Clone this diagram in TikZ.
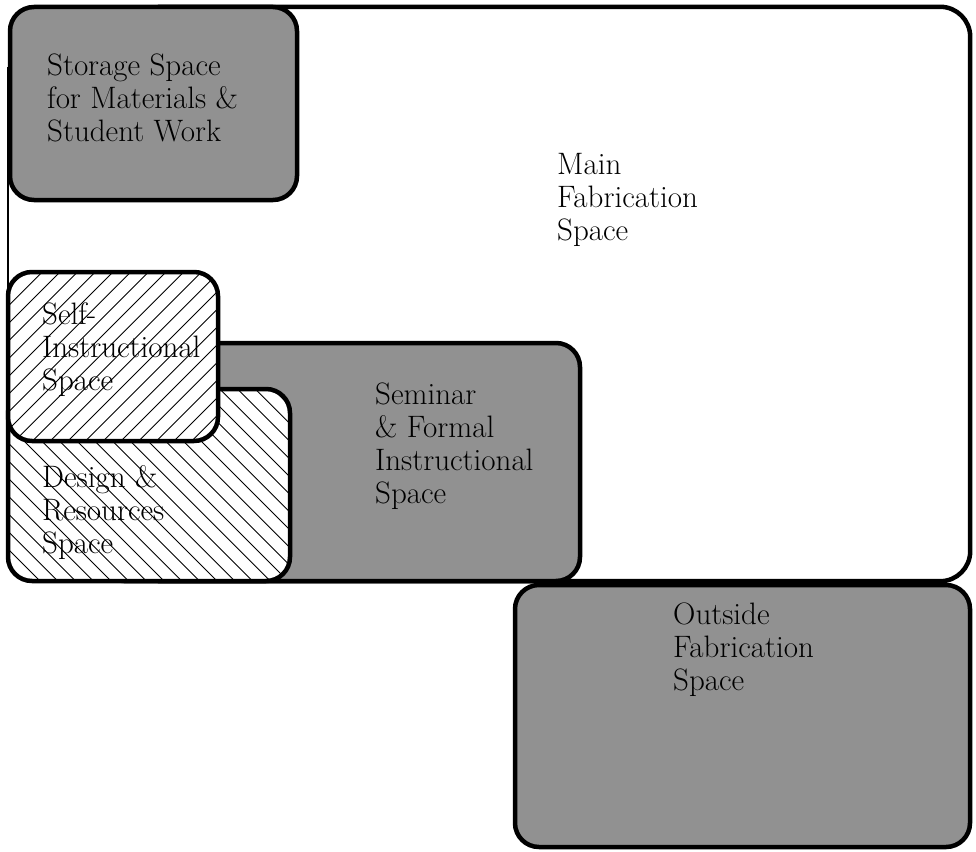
\documentclass[tikz,border=0pt]{standalone}
\definecolor{halftone}{gray}{0.57}
\begin{document}
\begin{tikzpicture}[x=1pt,y=-1pt,
  room/.style={rectangle, draw=black, line width=4.5pt, rounded corners=24pt, inner sep=0pt},
  shaded/.style={room, fill=halftone},
  hatchNE/.style={room, fill=white, path picture={
      \foreach \k in {-30,...,30}
        \draw[line width=0.9pt] ([xshift=\k*17.7pt]path picture bounding box.north) -- ++(-320pt,-320pt);}},
  hatchNW/.style={room, fill=white, path picture={
      \foreach \k in {-30,...,30}
        \draw[line width=0.9pt] ([xshift=\k*17.7pt]path picture bounding box.north) -- ++(320pt,-320pt);}},
  roomtext/.style={anchor=north west, align=left, inner sep=0pt, font=\fontsize{31}{33}\selectfont}]
\useasboundingbox (0,0) rectangle (976,851);

% main fabrication hall: heavy outline except for the thin west wall
\node[rectangle, fill=white, inner sep=0pt, minimum width=962pt, minimum height=574pt] (main) at (489,294) {};
\draw[line width=4.5pt, rounded corners=30pt] ([xshift=150pt]main.south west) -- (main.south east) -- (main.north east) -- ([xshift=150pt]main.north west);
\draw[line width=1.5pt] ([yshift=-60pt]main.north west) -- ([yshift=60pt]main.south west);

% rooms, back to front
\node[shaded, minimum width=287pt, minimum height=193pt] (storage) at (153.5,103.5) {};
\node[shaded, minimum width=480pt, minimum height=238pt] (seminar) at (340,462) {};
\node[hatchNW, minimum width=282pt, minimum height=192pt] (design) at (149,485) {};
\node[hatchNE, minimum width=210pt, minimum height=169pt] (self) at (113,356.5) {};
\node[shaded, minimum width=455pt, minimum height=262pt] (outside) at (742.5,716) {};

% room names
\node[roomtext] (tmain) at (557,153) {Main\\Fabrication\\Space};
\node[roomtext] (tstorage) at (47,54) {Storage Space\\for Materials \&\\Student Work};
\node[roomtext] (tself) at (42,303) {Self-\\Instructional\\Space};
\node[roomtext] (tdesign) at (42,465) {Design \&\\Resources\\Space};
\node[roomtext] (tseminar) at (375,383) {Seminar\\\& Formal\\Instructional\\Space};
\node[roomtext] (toutside) at (673,603) {Outside\\Fabrication\\Space};
\end{tikzpicture}
\end{document}
